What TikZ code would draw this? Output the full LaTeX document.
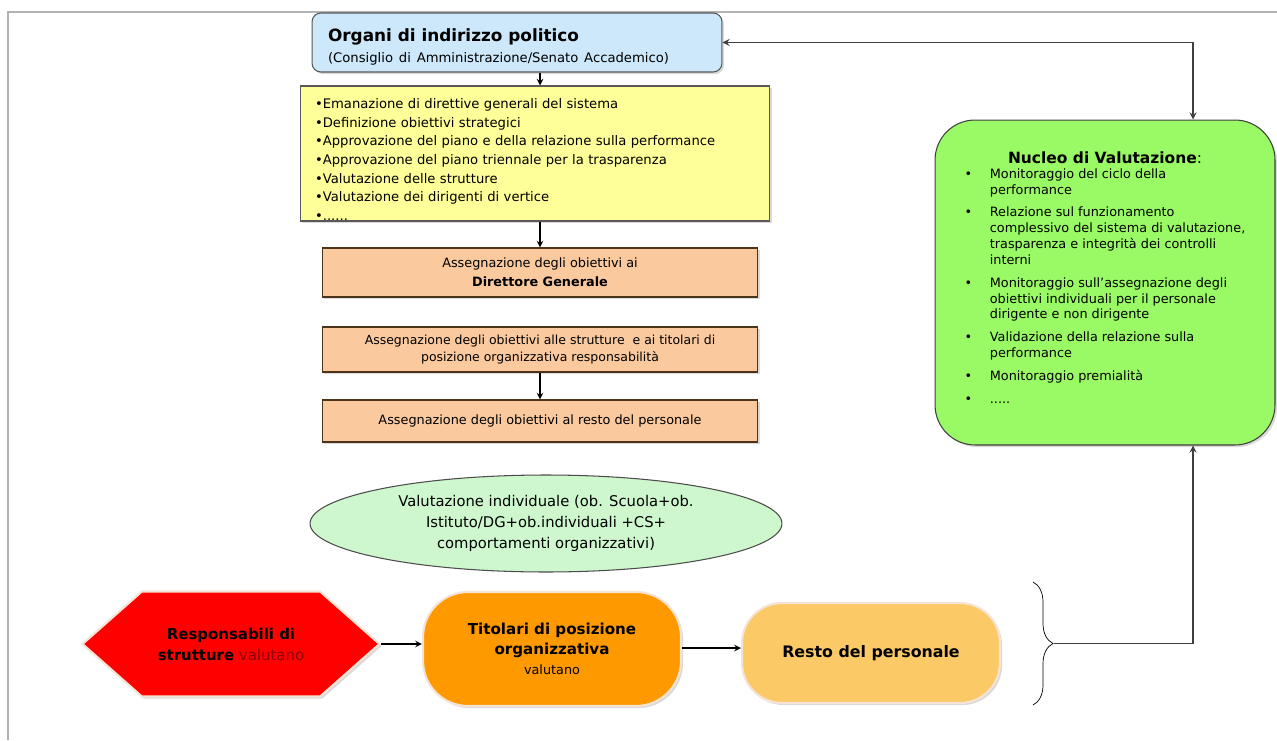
\documentclass[tikz,border=0pt]{standalone}
\usepackage{fontspec}
\setmainfont{DejaVu Sans}
\usetikzlibrary{calc, shapes, shapes.geometric, shapes.symbols, arrows, positioning, shadows, decorations.pathreplacing}
\definecolor{organiblue}{RGB}{204,232,250}
\definecolor{listyellow}{RGB}{255,255,153}
\definecolor{peach}{RGB}{250,201,158}
\definecolor{nucleogreen}{RGB}{153,250,102}
\definecolor{valgreen}{RGB}{206,247,206}
\definecolor{titorange}{RGB}{255,153,0}
\definecolor{restoorange}{RGB}{251,201,102}
\definecolor{paleedge}{RGB}{245,228,214}
\newcommand{\fs}[2]{\fontsize{#1}{#2}\selectfont}

\begin{document}
\begin{tikzpicture}[x=0.02cm, y=-0.02cm, >=stealth,
	shade/.style={drop shadow={shadow xshift=1.2pt, shadow yshift=-1.2pt, opacity=.3}},
	box/.style={draw=black!65, line width=0.6pt, shade, inner sep=0pt},
	pill/.style={rounded corners=0.9cm, draw=paleedge, line width=1.2pt, shade, align=center}]
\useasboundingbox (0,0) rectangle (1277,740);
\draw[black!30, line width=1pt] (1277,12) -- (8,12) -- (8,740);
\coordinate (spine) at (540,0);

% catena degli obiettivi
\node[box, rounded corners=5pt, fill=organiblue, minimum width=8.2cm, minimum height=1.18cm, text width=7.56cm, text height=12.5pt, align=left] (organi) at (517,42.5)
	{{\fs{9.6}{12}\bfseries Organi di indirizzo politico}\\{\fs{7.5}{9}(Consiglio di Amministrazione/Senato Accademico)}};
\node[box, fill=listyellow, minimum width=9.4cm, minimum height=2.7cm, text width=8.8cm, text height=11pt, text depth=62pt, align=left, font=\fs{7.5}{10.6}] (compiti) at (535,153.5)
	{•Emanazione di direttive generali del sistema\\
	 •Definizione obiettivi strategici\\
	 •Approvazione del piano e della relazione sulla performance\\
	 •Approvazione del piano triennale per la trasparenza\\
	 •Valutazione delle strutture\\
	 •Valutazione dei dirigenti di vertice\\
	 •......};
\node[box, draw=black!60!brown, fill=peach, minimum width=8.72cm, minimum height=0.98cm, align=center, font=\fs{7.3}{11}] (dg) at (540,272.5)
	{Assegnazione degli obiettivi ai\\\textbf{Direttore Generale}};
\node[box, draw=black!60!brown, fill=peach, minimum width=8.72cm, minimum height=0.9cm, align=center, font=\fs{7.1}{10}] (strutture) at (540,349.5)
	{Assegnazione degli obiettivi alle strutture \ e ai titolari di\\posizione organizzativa responsabilità};
\node[box, draw=black!60!brown, fill=peach, minimum width=8.72cm, minimum height=0.84cm, font=\fs{7.3}{10}] (resto) at (540,421)
	{Assegnazione degli obiettivi al resto del personale};
\draw[->, line width=0.7pt] (organi.south -| spine) -- (compiti.north -| spine);
\draw[->, line width=0.7pt] (compiti.south -| spine) -- (dg.north -| spine);
\draw[->, line width=0.7pt] (strutture.south -| spine) -- (resto.north -| spine);

% nucleo
\node[box, rounded corners=0.8cm, draw=black!75, fill=nucleogreen, minimum width=6.8cm, minimum height=6.5cm, align=center] (nucleo) at (1105,282.5)
	{{\fs{8.8}{11}\bfseries Nucleo di Valutazione}{\fs{8.8}{11}:}\\[1pt]
	 \fs{7.3}{9}\begin{tabular}{@{}l@{\hspace{10pt}}l@{}}
	 • & Monitoraggio del ciclo della\\
	   & performance\\[4pt]
	 • & Relazione sul funzionamento\\
	   & complessivo del sistema di valutazione,\\
	   & trasparenza e integrità dei controlli\\
	   & interni\\[4pt]
	 • & Monitoraggio sull’assegnazione degli\\
	   & obiettivi individuali per il personale\\
	   & dirigente e non dirigente\\[4pt]
	 • & Validazione della relazione sulla\\
	   & performance\\[4pt]
	 • & Monitoraggio premialità\\[4pt]
	 • & .....\\[3pt]
	 \end{tabular}};
\draw[<->, black!75, line width=0.8pt] (organi.east) -| ($(nucleo.north)+(88,0)$);

% valutazione
\node[ellipse, draw=black!70, line width=0.6pt, fill=valgreen, minimum width=9.44cm, minimum height=1.94cm, inner sep=0pt, align=center, font=\fs{8.4}{12}] (valind) at (546,523.5)
	{Valutazione individuale (ob. Scuola+ob.\\Istituto/DG+ob.individuali +CS+\\comportamenti organizzativi)};
\node[signal, signal to=west and east, signal pointer angle=83, minimum width=5.94cm, minimum height=2.1cm, fill=red, draw=paleedge, line width=1.2pt, shade, align=center, font=\fs{8.5}{12}] (resp) at (231,644)
	{\textbf{Responsabili di}\\\textbf{strutture} {\color{black!45!red}valutano}};
\node[pill, fill=titorange, minimum width=5.16cm, minimum height=2.28cm, font=\fs{8.6}{11.5}] (tito) at (552,649)
	{\textbf{Titolari di posizione}\\\textbf{organizzativa}\\{\fs{7.3}{11}valutano}};
\node[pill, rounded corners=0.8cm, fill=restoorange, minimum width=5.16cm, minimum height=2cm, font=\fs{9}{11}\bfseries] (pers) at (871,653)
	{Resto del personale};
\draw[->, line width=0.7pt] (resp.east) -- (resp.east -| tito.west);
\draw[->, line width=0.7pt] (tito.east |- 0,648) -- (pers.west |- 0,648);
\draw[decorate, decoration={brace, amplitude=0.4cm}] (1033,582) -- (1033,705) coordinate[midway, xshift=0.42cm] (tip);
\draw[->, black!75, line width=0.8pt] (tip) -| ($(nucleo.south)+(88,0)$);
\end{tikzpicture}
\end{document}
